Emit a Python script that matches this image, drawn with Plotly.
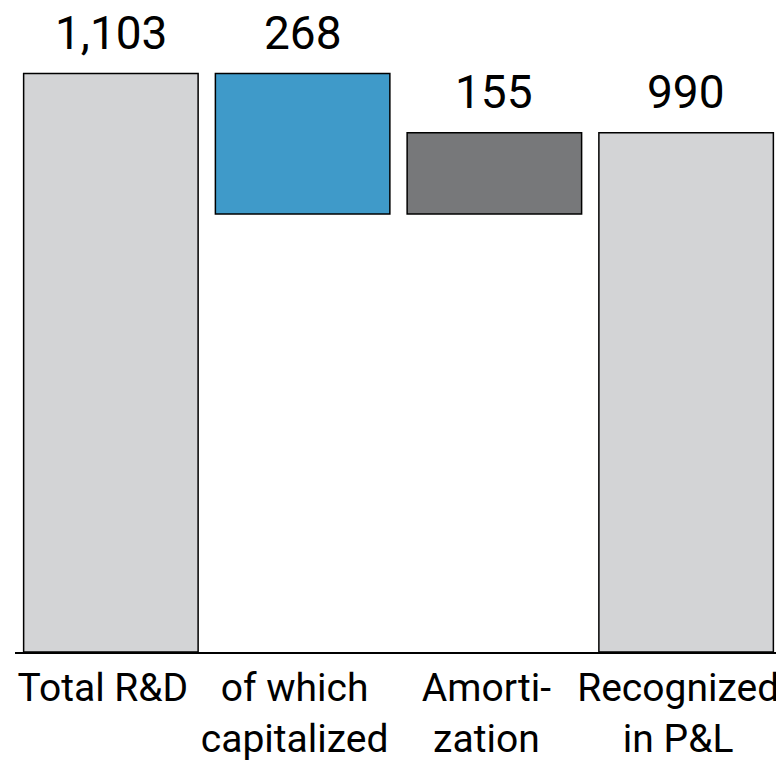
import plotly.graph_objects as go

# R&D waterfall (EUR m)
categories = ["Total R&D", "of which<br>capitalized", "Amorti-<br>zation", "Recognized<br>in P&L"]
measures = ["absolute", "relative", "relative", "total"]
values = [1103, -268, 155, 990]
labels = ["1,103", "268", "155", "990"]

# top edge of every bar, from the running total
tops = []
running = 0
for m, v in zip(measures, values):
    if m == "absolute":
        prev, running = 0, v
    elif m == "total":
        prev = 0
    else:
        prev, running = running, running + v
    tops.append(max(prev, running))

outline = dict(color="#000000", width=1.5)
fig = go.Figure(go.Waterfall(
    x=categories,
    y=values,
    measure=measures,
    totals=dict(marker=dict(color="#d3d4d6", line=outline)),
    decreasing=dict(marker=dict(color="#3f9ac9", line=outline)),
    increasing=dict(marker=dict(color="#77787a", line=outline)),
    connector=dict(visible=False),
    textposition="none",
    hoverinfo="skip",
))

for cat, top, lab in zip(categories, tops, labels):
    fig.add_annotation(
        x=cat, y=top, text=lab, showarrow=False,
        yanchor="bottom", yshift=12,
        font=dict(family="Roboto", size=46, color="#000000"),
    )

# page body keeps an 8px margin, so the figure is 8px smaller each way
fig.update_layout(
    width=776, height=754,
    margin=dict(l=7, r=2, t=0, b=105),
    paper_bgcolor="white", plot_bgcolor="white",
    showlegend=False,
    waterfallgap=0.09,
    font=dict(family="Roboto", color="#000000"),
)
fig.update_xaxes(
    showline=True, linecolor="#000000", linewidth=2,
    ticks="", tickfont=dict(family="Roboto", size=39, color="#000000"),
    ticklabelshift=-8,
    showgrid=False, zeroline=False,
)
fig.update_yaxes(
    range=[0, 1228], visible=False, showgrid=False, zeroline=False,
)

fig.write_html("out.html")
